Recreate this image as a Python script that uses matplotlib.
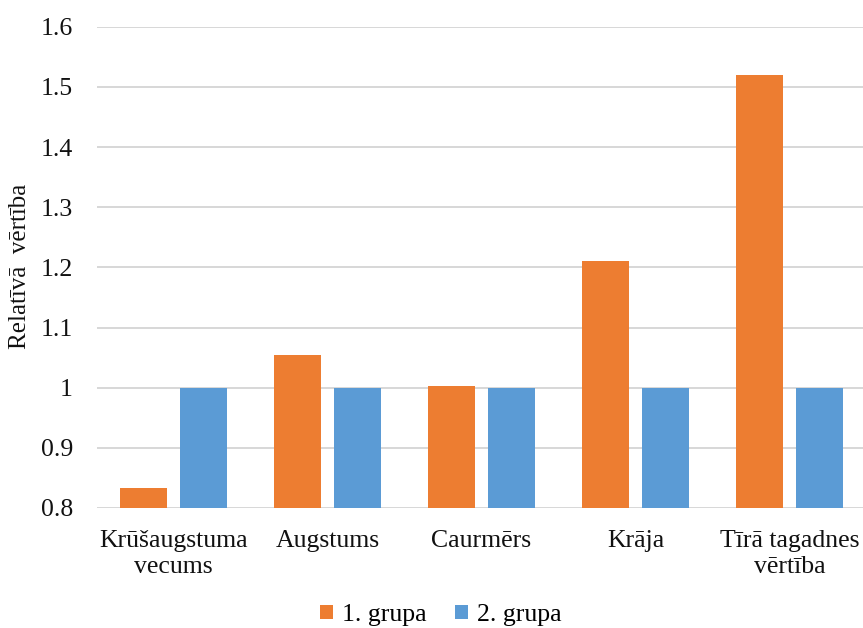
import matplotlib
matplotlib.use("Agg")
import matplotlib.pyplot as plt
import numpy as np

categories = ["Krūšaugstuma\nvecums", "Augstums", "Caurmērs", "Krāja", "Tīrā tagadnes\nvērtība"]
group1 = [0.833, 1.054, 1.002, 1.210, 1.520]
group2 = [1.0, 1.0, 1.0, 1.0, 1.0]
series_names = ["1. grupa", "2. grupa"]
yticks = [0.8, 0.9, 1.0, 1.1, 1.2, 1.3, 1.4, 1.5, 1.6]
ytick_labels = ["0.8", "0.9", "1", "1.1", "1.2", "1.3", "1.4", "1.5", "1.6"]

orange = "#ED7D31"
blue = "#5B9BD5"

plt.rcParams["font.family"] = ["Liberation Serif", "DejaVu Serif"]

W, H = 863, 628
fig = plt.figure(figsize=(W / 100, H / 100), dpi=100)
left, right, top, bottom = 96.5, 866.5, 26.7, 508.0
ax = fig.add_axes([left / W, 1 - bottom / H, (right - left) / W, (bottom - top) / H])

x = np.arange(len(categories))
bw = 0.305
off = 0.195
ax.bar(x - off, group1, bw, bottom=0, color=orange, label=series_names[0], zorder=3)
ax.bar(x + off, group2, bw, bottom=0, color=blue, label=series_names[1], zorder=3)

ax.set_xlim(-0.5, len(categories) - 0.5)
ax.set_ylim(0.8, 1.6)
ax.set_yticks(yticks)
ax.set_yticklabels(ytick_labels, fontsize=18.5)
ax.set_xticks(x)
ax.set_xticklabels(categories, fontsize=18.5, linespacing=1.2)
ax.tick_params(axis="both", length=0, colors="#111111")
ax.tick_params(axis="y", pad=17)
ax.tick_params(axis="x", pad=16)

ax.grid(axis="y", color="#D4D4D4", linewidth=1.3, zorder=0)
for s in ax.spines.values():
    s.set_visible(False)

fig.text(20 / W, 1 - 266 / H, "Relatīvā  vērtība", rotation=90, fontsize=18,
         ha="center", va="center", color="#111111")

leg = fig.legend(loc="center", bbox_to_anchor=(441 / W, 1 - 615 / H), ncol=2,
                 frameon=False, fontsize=18.5, handlelength=0.5, handleheight=0.5,
                 handletextpad=0.35, columnspacing=1.1)

fig.savefig("out.png", dpi=100)
